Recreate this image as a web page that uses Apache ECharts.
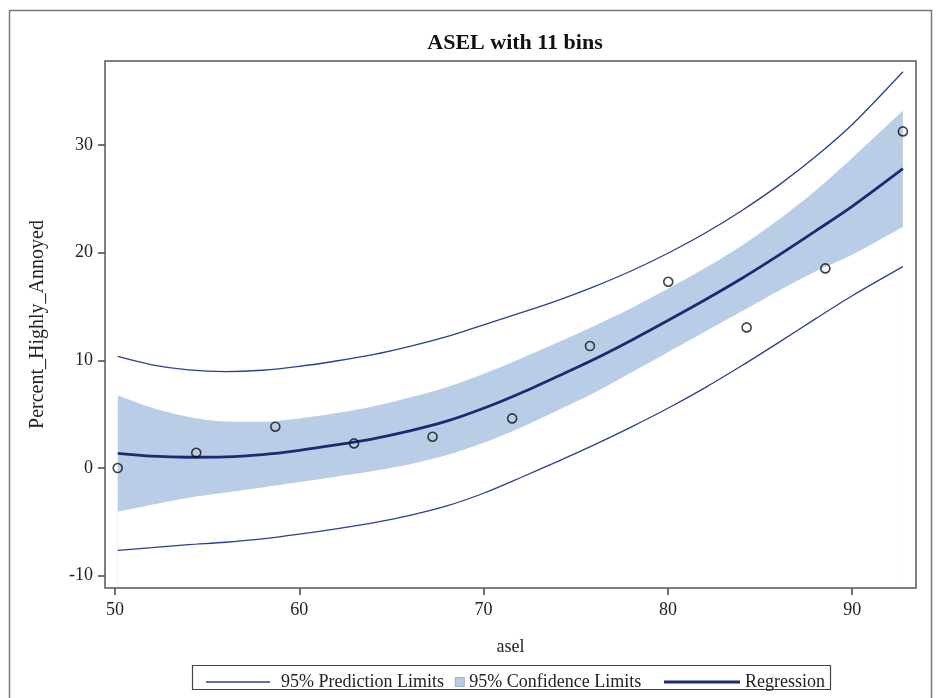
<!DOCTYPE html>
<html>
<head>
<meta charset="utf-8">
<script src="https://cdn.jsdelivr.net/npm/echarts@6/dist/echarts.min.js"></script>
<style>
html,body{margin:0;padding:0;background:#fff;}
#chart{width:936px;height:698px;}
</style>
</head>
<body>
<div id="chart"></div>
<script>
// ---- data ----
const curveX   = [50.15,52,54,56,58,60,62,64,66,68,70,72,74,76,78,80,82,84,86,88,90,92.75];
const regression = [1.36,1.1,1.0,1.03,1.25,1.65,2.15,2.72,3.45,4.35,5.55,6.95,8.5,10.1,11.85,13.7,15.6,17.6,19.75,22.0,24.3,27.8];
const ciUpper  = [6.76,5.6,4.75,4.33,4.3,4.6,5.1,5.72,6.55,7.5,8.75,10.15,11.65,13.2,14.85,16.65,18.55,20.65,23.05,25.75,28.8,33.2];
const ciLower  = [-4.04,-3.4,-2.75,-2.27,-1.8,-1.3,-0.8,-0.28,0.35,1.2,2.35,3.75,5.35,7.0,8.85,10.75,12.65,14.55,16.45,18.25,19.8,22.4];
const piUpper  = [10.36,9.59,9.12,8.95,9.08,9.44,9.94,10.53,11.3,12.2,13.3,14.4,15.55,16.85,18.3,19.95,21.8,23.9,26.25,28.9,31.9,36.8];
const piLower  = [-7.64,-7.39,-7.12,-6.89,-6.58,-6.14,-5.64,-5.09,-4.4,-3.52,-2.34,-0.9,0.6,2.15,3.8,5.55,7.45,9.5,11.65,13.85,16.0,18.7];
const pointX   = [50.15,54.41,58.7,62.97,67.23,71.55,75.77,80.02,84.27,88.54,92.75];
const pointY   = [0,1.42,3.84,2.29,2.91,4.61,11.33,17.3,13.06,18.54,31.26];
const xTicks   = [50,60,70,80,90];
const yTicks   = [-10,0,10,20,30];
const titleText = 'ASEL with 11 bins';
const xName = 'asel';
const yName = 'Percent_Highly_Annoyed';
const names = ['95% Prediction Limits','95% Confidence Limits','Regression'];

const pair = (xs, ys) => xs.map((x,i)=>[x, ys[i]]);
const FONT = 'Liberation Serif';
const predColor = '#2b3f8e';
const regColor = '#1b2b72';
const bandColor = '#b9cde6';

const G = {left:105, right:20, top:61, bottom:110};
const W = 936, H = 698;

const chart = echarts.init(document.getElementById('chart'), null, {renderer:'canvas'});
chart.setOption({
  animation:false,
  backgroundColor:'#fff',
  title:{
    text:titleText, left:510, top:27, textAlign:'center',
    textStyle:{fontFamily:FONT, fontSize:22, fontWeight:'bold', color:'#111'}
  },
  graphic:[
    {type:'rect', shape:{x:9.5,y:10.5,width:922,height:720}, style:{fill:'none', stroke:'#777', lineWidth:1.5}, silent:true, z:-10},
    {type:'rect', shape:{x:G.left, y:G.top, width:W-G.left-G.right, height:H-G.top-G.bottom},
     style:{fill:'none', stroke:'#555', lineWidth:1.5}, silent:true, z:100},
    {type:'rect', shape:{x:192.5,y:665.5,width:638,height:24}, style:{fill:'#fff', stroke:'#444', lineWidth:1.2}, silent:true, z:-5}
  ],
  legend:[
    {left:201, top:668, itemWidth:64, itemHeight:1.3, selectedMode:false,
     data:[{name:names[0], icon:'rect', itemStyle:{color:predColor}}],
     textStyle:{fontFamily:FONT, fontSize:18, color:'#222', padding:[0,0,0,6]}},
    {left:450, top:668, itemWidth:9, itemHeight:9, selectedMode:false,
     data:[{name:names[1], icon:'rect', itemStyle:{color:bandColor, borderColor:'#6f8fbf', borderWidth:0.6}}],
     textStyle:{fontFamily:FONT, fontSize:18, color:'#222'}},
    {left:659, top:668, itemWidth:76, itemHeight:3, selectedMode:false,
     data:[{name:names[2], icon:'rect', itemStyle:{color:regColor}}],
     textStyle:{fontFamily:FONT, fontSize:18, color:'#222'}}
  ],
  grid:{left:G.left, right:G.right, top:G.top, bottom:G.bottom, show:false},
  xAxis:{
    type:'value', min:49.46, max:93.46,
    name:xName, nameLocation:'middle', nameGap:50,
    nameTextStyle:{fontFamily:FONT, fontSize:18, color:'#222'},
    axisLine:{show:false, onZero:false},
    axisTick:{show:true, inside:false, length:7, customValues:xTicks, lineStyle:{color:'#444', width:1.5}},
    axisLabel:{customValues:xTicks, margin:13, fontFamily:FONT, fontSize:18, color:'#222'},
    splitLine:{show:false}
  },
  yAxis:{
    type:'value', min:-11.14, max:37.8,
    name:yName, nameLocation:'middle', nameGap:57,
    nameTextStyle:{fontFamily:FONT, fontSize:20, color:'#222'},
    axisLine:{show:false, onZero:false},
    axisTick:{show:true, inside:false, length:7, customValues:yTicks, lineStyle:{color:'#444', width:1.5}},
    axisLabel:{customValues:yTicks, margin:12, fontFamily:FONT, fontSize:18, color:'#222'},
    splitLine:{show:false}
  },
  series:[
    {name:names[1], type:'line', data:pair(curveX, ciUpper), symbol:'none', smooth:0.3,
     lineStyle:{width:0, opacity:0}, areaStyle:{color:bandColor, opacity:1, origin:'start'},
     itemStyle:{color:bandColor}, z:1, silent:true},
    {name:'ciLowerEdge', type:'line', data:pair(curveX, ciLower), symbol:'none', smooth:0.3,
     lineStyle:{width:0, opacity:0}, areaStyle:{color:'#fff', opacity:1, origin:'start'},
     itemStyle:{color:'#fff'}, z:2, silent:true},
    {name:names[0], type:'line', data:pair(curveX, piUpper), symbol:'none', smooth:0.3,
     lineStyle:{color:predColor, width:1.3}, itemStyle:{color:predColor}, z:3},
    {name:names[0], type:'line', data:pair(curveX, piLower), symbol:'none', smooth:0.3,
     lineStyle:{color:predColor, width:1.3}, itemStyle:{color:predColor}, z:3},
    {name:names[2], type:'line', data:pair(curveX, regression), symbol:'none', smooth:0.3,
     lineStyle:{color:regColor, width:2.8}, itemStyle:{color:regColor}, z:4},
    {name:'points', type:'scatter', data:pair(pointX, pointY), symbol:'circle', symbolSize:9,
     itemStyle:{color:'rgba(0,0,0,0)', borderColor:'#111', borderWidth:1.6}, z:5}
  ]
});
</script>
</body>
</html>
